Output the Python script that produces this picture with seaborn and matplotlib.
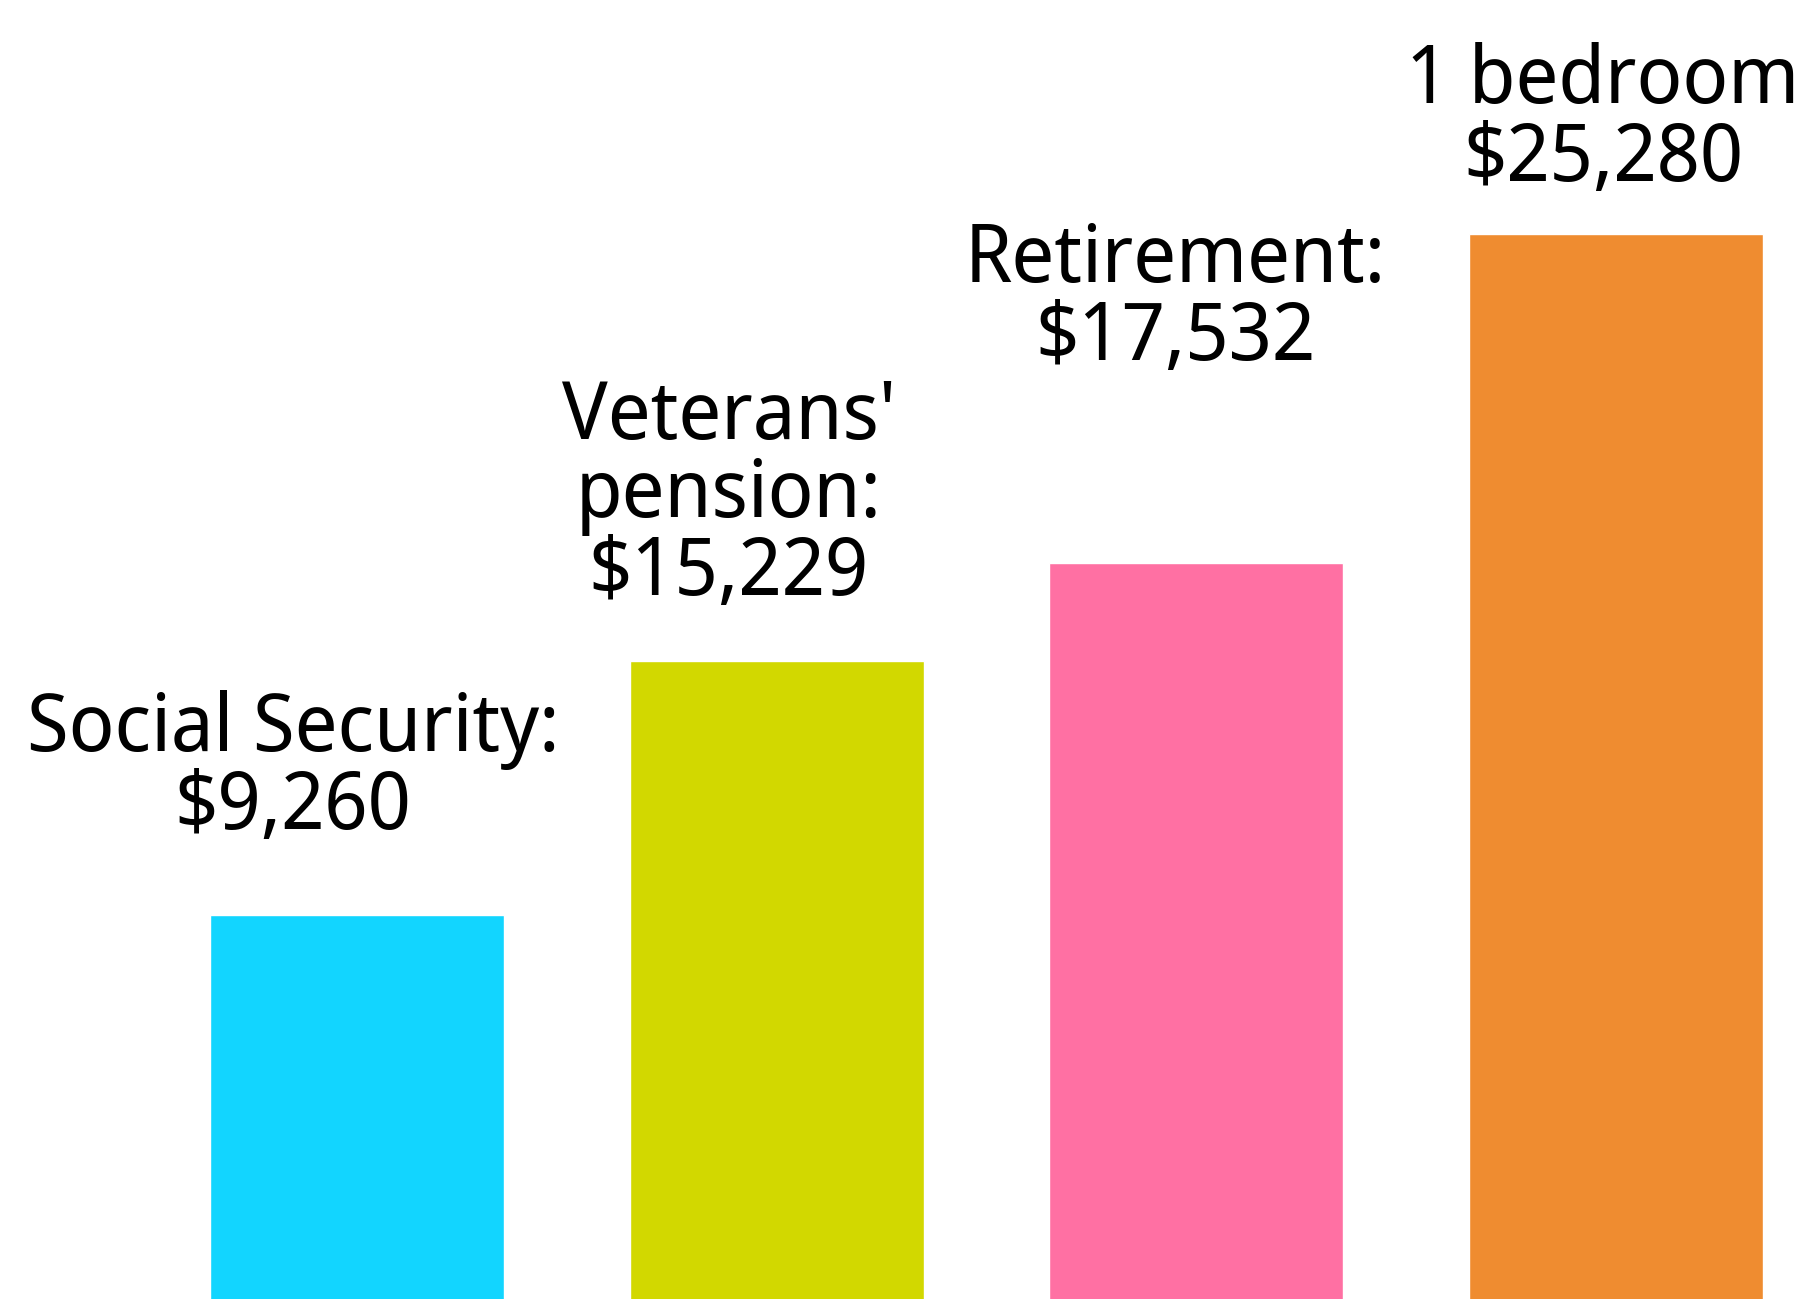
import matplotlib
matplotlib.use("Agg")
import matplotlib.pyplot as plt
import seaborn as sns
import pandas as pd

categories = ["Social Security", "Veterans' pension", "Retirement", "1 bedroom"]
values = [9260, 15229, 17532, 25280]
colors = ["#12D5FF", "#D2D800", "#FF70A3", "#EF8C30"]
label_lines = [
    ["Social Security:", "$9,260"],
    ["Veterans'", "pension:", "$15,229"],
    ["Retirement:", "$17,532"],
    ["1 bedroom", "$25,280"],
]
# label placement (x offset from bar centre, baseline of first line in data units)
label_dx = [-0.152, -0.114, -0.05, -0.031]
label_top = [13124, 20457, 24150, 28362]
line_step = 1830

sns.set_theme(style="white")
plt.rcParams["font.family"] = ["Noto Sans Display", "Noto Sans", "DejaVu Sans"]

df = pd.DataFrame({"cat": categories, "val": values})

fig = plt.figure(figsize=(18.07, 12.99), dpi=100)
ax = fig.add_axes([0, 0, 1, 1])
sns.barplot(data=df, x="cat", y="val", hue="cat", palette=colors,
            width=0.7, saturation=1, legend=False, ax=ax)
ax.set_xlim(-0.8506, 3.455)
ax.set_ylim(226, 30784)
ax.axis("off")

for i, lines in enumerate(label_lines):
    for j, line in enumerate(lines):
        ax.text(i + label_dx[i], label_top[i] - j * line_step, line,
                ha="center", va="baseline", fontsize=58, color="black")

fig.savefig("out.png", dpi=100)
